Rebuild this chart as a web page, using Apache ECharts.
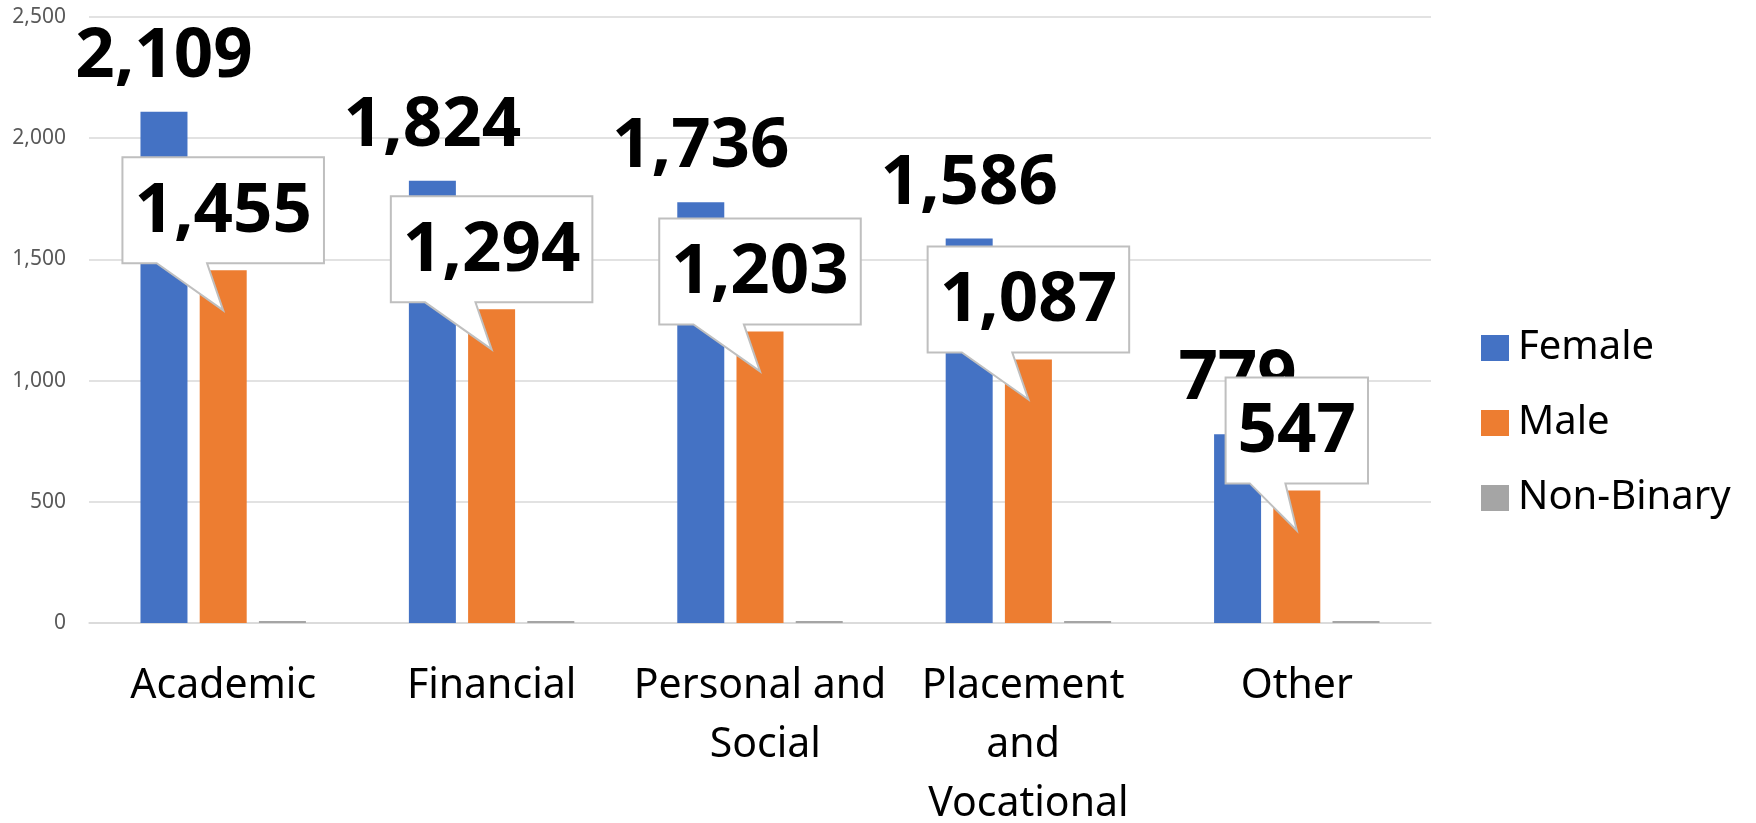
<!DOCTYPE html>
<html>
<head>
<meta charset="utf-8">
<script src="https://cdn.jsdelivr.net/npm/echarts@6/dist/echarts.min.js"></script>
<style>
  html, body { margin: 0; padding: 0; background: #fff; }
  #chart { width: 1756px; height: 823px; }
</style>
</head>
<body>
<div id="chart"></div>
<script>
// --- Data ---
var categories = ['Academic', 'Financial', 'Personal and Social', 'Placement and Vocational', 'Other'];
var female = [2109, 1824, 1736, 1586, 779];
var male = [1455, 1294, 1203, 1087, 547];
var nonBinary = [8, 8, 8, 8, 8];
var yTicks = [0, 500, 1000, 1500, 2000, 2500];

(function() {
  'use strict';

  var FONT = '"Noto Sans", "Open Sans", sans-serif';
  var BIG_SIZE = 69;
  var BLUE = '#4472C4';
  var ORANGE = '#ED7D31';
  var GREY = '#A5A5A5';
  var GRID_COLOR = '#D9D9D9';

  // canvas used only to measure label widths for the callout boxes
  var measureCtx = document.createElement('canvas').getContext('2d');
  measureCtx.font = 'bold ' + BIG_SIZE + 'px ' + FONT;

  function fmt(v) {
    return Number(v).toLocaleString('en-US');
  }

  // --- Callout shape for the Male labels ---
  function renderCallout(params, api) {
    var v = api.value(1);
    var pt = api.coord([api.value(0), v]);
    var cx = pt[0];
    var yTop = pt[1];
    var text = fmt(v);
    var w = measureCtx.measureText(text).width + 24;
    var h = 106;
    var L = cx - w / 2;
    var R = cx + w / 2;
    var B = yTop - 7;
    var T = B - h;
    var pL = L + 0.17 * w;
    var pR = L + 0.42 * w;

    return {
      type: 'group',
      children: [{
        type: 'polygon',
        shape: {
          points: [[L, T], [R, T], [R, B], [pR, B], [cx, yTop + 40], [pL, B], [L, B]]
        },
        style: { fill: '#ffffff', stroke: '#BFBFBF', lineWidth: 2 }
      }, {
        type: 'text',
        x: cx,
        y: (T + B) / 2 + 2,
        style: {
          text: text,
          align: 'center',
          verticalAlign: 'middle',
          fill: '#000000',
          font: 'bold ' + BIG_SIZE + 'px ' + FONT
        }
      }]
    };
  }

  var calloutData = male.map(function(v, i) { return [i, v]; });

  var chart = echarts.init(document.getElementById('chart'), null, { renderer: 'canvas' });

  var option = {
    animation: false,
    color: [BLUE, ORANGE, GREY],
    grid: {
      left: 89,
      right: 325,
      top: 17,
      bottom: 200,
      containLabel: false,
      outerBoundsMode: 'none'
    },
    legend: {
      data: ['Female', 'Male', 'Non-Binary'],
      orient: 'vertical',
      left: 1476,
      top: 323,
      icon: 'rect',
      itemWidth: 28,
      itemHeight: 26,
      itemGap: 35,
      textStyle: {
        fontFamily: FONT,
        fontSize: 40,
        lineHeight: 40,
        color: '#000000',
        padding: [0, 0, 0, 4]
      }
    },
    xAxis: {
      type: 'category',
      data: categories,
      axisLine: { show: true, lineStyle: { color: GRID_COLOR, width: 1.5 } },
      axisTick: { show: false },
      axisLabel: {
        fontFamily: FONT,
        fontSize: 41,
        lineHeight: 59,
        color: '#000000',
        margin: 34,
        width: 262,
        overflow: 'break',
        interval: 0
      }
    },
    yAxis: {
      type: 'value',
      min: yTicks[0],
      max: yTicks[yTicks.length - 1],
      interval: 500,
      axisLine: { show: false },
      axisTick: { show: false },
      splitLine: { lineStyle: { color: GRID_COLOR, width: 1.5 } },
      axisLabel: {
        fontFamily: FONT,
        fontSize: 21,
        color: '#595959',
        margin: 23,
        formatter: function(v) { return fmt(v); }
      }
    },
    series: [{
      name: 'Female',
      type: 'bar',
      data: female,
      barWidth: 47,
      barGap: '26%',
      itemStyle: { color: BLUE },
      label: {
        show: true,
        position: 'top',
        distance: 20,
        fontFamily: FONT,
        fontWeight: 'bold',
        fontSize: BIG_SIZE,
        lineHeight: BIG_SIZE,
        color: '#000000',
        formatter: function(p) { return fmt(p.value); }
      }
    }, {
      name: 'Male',
      type: 'bar',
      data: male,
      barWidth: 47,
      barGap: '26%',
      itemStyle: { color: ORANGE }
    }, {
      name: 'Non-Binary',
      type: 'bar',
      data: nonBinary,
      barWidth: 47,
      barGap: '26%',
      itemStyle: { color: GREY }
    }, {
      name: 'Male callouts',
      type: 'custom',
      z: 10,
      silent: true,
      renderItem: renderCallout,
      encode: { x: 0, y: 1 },
      data: calloutData
    }]
  };

  chart.setOption(option);
})();
</script>
</body>
</html>
